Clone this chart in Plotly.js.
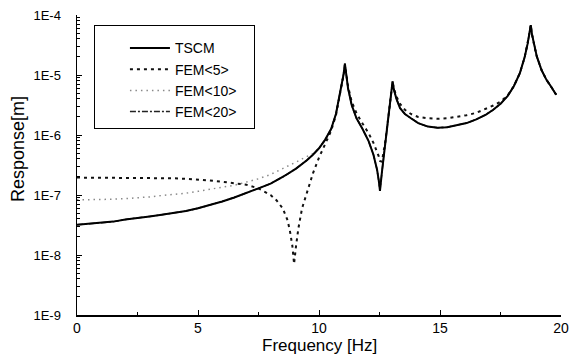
<!DOCTYPE html>
<html>
<head>
<meta charset="utf-8">
<script src="https://cdn.plot.ly/plotly-3.0.1.min.js"></script>
<style>html,body{margin:0;padding:0;background:#fff;}#chart{width:571px;height:357px;}</style>
</head>
<body>
<div id="chart"></div>
<script>
// Frequency grid [Hz]
const freq = [0, 0.5, 1, 1.5, 2, 2.5, 3, 3.5, 4, 4.5, 5, 5.5, 6, 6.5, 7, 7.5, 8,
  8.25, 8.5, 8.7, 8.8, 8.9, 8.97, 9.05, 9.15, 9.3, 9.5, 9.75,
  10, 10.25, 10.5, 10.7, 10.85, 10.95, 11.02, 11.07, 11.12, 11.2, 11.35, 11.55, 11.8,
  12.05, 12.25, 12.4, 12.47, 12.52, 12.6, 12.75, 12.9, 13, 13.04, 13.1, 13.2, 13.35, 13.55, 13.8,
  14.1, 14.5, 14.9, 15.3, 15.7, 16.1, 16.5, 16.9, 17.2, 17.5, 17.8,
  18.05, 18.3, 18.5, 18.62, 18.7, 18.75, 18.8, 18.9, 19, 19.2, 19.4, 19.6, 19.8];

// Response [m]
const tscm = [3.2e-8, 3.3e-8, 3.5e-8, 3.6e-8, 3.9e-8, 4.1e-8, 4.4e-8, 4.7e-8, 5.0e-8, 5.4e-8, 6.0e-8, 6.8e-8, 7.8e-8, 9.1e-8, 1.1e-7, 1.29e-7, 1.55e-7,
  1.74e-7, 2.0e-7, 2.24e-7, 2.4e-7, 2.5e-7, 2.63e-7, 2.75e-7, 2.95e-7, 3.24e-7, 3.8e-7, 4.7e-7,
  6.0e-7, 8.3e-7, 1.26e-6, 2.24e-6, 4.5e-6, 7.1e-6, 1.05e-5, 1.55e-5, 1.05e-5, 6.0e-6, 3.16e-6, 1.9e-6, 1.26e-6,
  7.9e-7, 4.7e-7, 2.63e-7, 1.74e-7, 1.17e-7, 2.4e-7, 7.9e-7, 2.5e-6, 5.2e-6, 7.8e-6, 5.6e-6, 4.0e-6, 2.8e-6, 2.24e-6, 1.9e-6,
  1.58e-6, 1.38e-6, 1.32e-6, 1.35e-6, 1.45e-6, 1.58e-6, 1.82e-6, 2.19e-6, 2.63e-6, 3.3e-6, 4.5e-6,
  6.5e-6, 1.07e-5, 2.0e-5, 3.3e-5, 5.0e-5, 6.8e-5, 4.8e-5, 3.0e-5, 2.04e-5, 1.2e-5, 8.3e-6, 6.3e-6, 4.7e-6];

const fem5 = [1.95e-7, 1.95e-7, 1.95e-7, 1.94e-7, 1.94e-7, 1.93e-7, 1.93e-7, 1.92e-7, 1.9e-7, 1.86e-7, 1.82e-7, 1.74e-7, 1.66e-7, 1.58e-7, 1.48e-7, 1.29e-7, 1.0e-7,
  8.1e-8, 6.0e-8, 3.8e-8, 2.5e-8, 1.41e-8, 7.1e-9, 1.41e-8, 2.8e-8, 6.0e-8, 1.12e-7, 2.3e-7,
  4.2e-7, 7.1e-7, 1.17e-6, 2.14e-6, 4.3e-6, 6.9e-6, 1.02e-5, 1.48e-5, 1.07e-5, 6.5e-6, 3.6e-6, 2.3e-6, 1.55e-6,
  1.07e-6, 7.4e-7, 5.4e-7, 4.4e-7, 3.7e-7, 3.6e-7, 8.3e-7, 2.5e-6, 5.2e-6, 7.6e-6, 5.9e-6, 4.4e-6, 3.3e-6, 2.63e-6, 2.24e-6,
  2.0e-6, 1.9e-6, 1.86e-6, 1.9e-6, 2.0e-6, 2.14e-6, 2.34e-6, 2.7e-6, 3.1e-6, 3.6e-6, 4.6e-6,
  6.5e-6, 1.07e-5, 2.0e-5, 3.3e-5, 5.0e-5, 6.8e-5, 4.8e-5, 3.0e-5, 2.04e-5, 1.2e-5, 8.3e-6, 6.3e-6, 4.7e-6];

const fem10 = [8.3e-8, 8.3e-8, 8.5e-8, 8.5e-8, 8.7e-8, 8.9e-8, 9.3e-8, 9.8e-8, 1.02e-7, 1.07e-7, 1.15e-7, 1.23e-7, 1.35e-7, 1.45e-7, 1.66e-7, 1.86e-7, 2.2e-7,
  2.45e-7, 2.75e-7, 3.0e-7, 3.16e-7, 3.3e-7, 3.4e-7, 3.55e-7, 3.7e-7, 4.0e-7, 4.4e-7, 4.9e-7,
  6.0e-7, 8.3e-7, 1.26e-6, 2.24e-6, 4.5e-6, 7.1e-6, 1.05e-5, 1.55e-5, 1.05e-5, 6.0e-6, 3.16e-6, 1.9e-6, 1.26e-6,
  7.9e-7, 4.7e-7, 2.63e-7, 1.74e-7, 1.17e-7, 2.4e-7, 7.9e-7, 2.5e-6, 5.2e-6, 7.8e-6, 5.6e-6, 4.0e-6, 2.8e-6, 2.24e-6, 1.9e-6,
  1.58e-6, 1.38e-6, 1.32e-6, 1.35e-6, 1.45e-6, 1.58e-6, 1.82e-6, 2.19e-6, 2.63e-6, 3.3e-6, 4.5e-6,
  6.5e-6, 1.07e-5, 2.0e-5, 3.3e-5, 5.0e-5, 6.8e-5, 4.8e-5, 3.0e-5, 2.04e-5, 1.2e-5, 8.3e-6, 6.3e-6, 4.7e-6];

const fem20 = [3.2e-8, 3.3e-8, 3.5e-8, 3.6e-8, 3.9e-8, 4.1e-8, 4.4e-8, 4.7e-8, 5.0e-8, 5.4e-8, 6.0e-8, 6.8e-8, 7.8e-8, 9.1e-8, 1.1e-7, 1.29e-7, 1.55e-7,
  1.74e-7, 2.0e-7, 2.24e-7, 2.4e-7, 2.5e-7, 2.63e-7, 2.75e-7, 2.95e-7, 3.24e-7, 3.8e-7, 4.7e-7,
  6.0e-7, 8.3e-7, 1.26e-6, 2.24e-6, 4.5e-6, 7.1e-6, 1.05e-5, 1.55e-5, 1.05e-5, 6.0e-6, 3.16e-6, 1.9e-6, 1.26e-6,
  7.9e-7, 4.7e-7, 2.63e-7, 1.74e-7, 1.17e-7, 2.4e-7, 7.9e-7, 2.5e-6, 5.2e-6, 7.8e-6, 5.6e-6, 4.0e-6, 2.8e-6, 2.24e-6, 1.9e-6,
  1.58e-6, 1.38e-6, 1.32e-6, 1.35e-6, 1.45e-6, 1.58e-6, 1.82e-6, 2.19e-6, 2.63e-6, 3.3e-6, 4.5e-6,
  6.5e-6, 1.07e-5, 2.0e-5, 3.3e-5, 5.0e-5, 6.8e-5, 4.8e-5, 3.0e-5, 2.04e-5, 1.2e-5, 8.3e-6, 6.3e-6, 4.7e-6];

const seriesNames = ['TSCM', 'FEM&lt;5&gt;', 'FEM&lt;10&gt;', 'FEM&lt;20&gt;&nbsp;&nbsp;&nbsp;'];
const xTickVals = [0, 5, 10, 15, 20];
const yTickVals = [1e-9, 1e-8, 1e-7, 1e-6, 1e-5, 1e-4];
const yTickText = ['1E-9', '1E-8', '1E-7', '1E-6', '1E-5', '1E-4'];

const yMinor = [];
for (let e = -9; e < -4; e++) {
  for (let m = 2; m <= 9; m++) yMinor.push(m * Math.pow(10, e));
}

const FONT = '"Liberation Sans", Arial, Helvetica, sans-serif';

const traces = [
  {x: freq, y: fem20, name: seriesNames[3], legendrank: 4, mode: 'lines',
   line: {color: '#222', width: 1.5, dash: '6px,2px,2px,2px'}},
  {x: freq, y: fem10, name: seriesNames[2], legendrank: 3, mode: 'lines',
   line: {color: '#8a8a8a', width: 1.5, dash: '1.5px,4px'}},
  {x: freq, y: fem5, name: seriesNames[1], legendrank: 2, mode: 'lines',
   line: {color: '#111', width: 2, dash: '3px,4px'}},
  {x: freq, y: tscm, name: seriesNames[0], legendrank: 1, mode: 'lines',
   line: {color: '#000', width: 2}}
];

const layout = {
  width: 571, height: 357,
  margin: {l: 77, r: 10, t: 15, b: 42},
  paper_bgcolor: '#fff', plot_bgcolor: '#fff',
  font: {family: FONT, color: '#000', size: 13},
  showlegend: true,
  legend: {
    x: 0.035, y: 0.967, xanchor: 'left', yanchor: 'top',
    bgcolor: '#fff', bordercolor: '#000', borderwidth: 1,
    font: {family: FONT, size: 14, color: '#000'},
    indentation: 30, itemwidth: 40,
    title: {text: '&nbsp;', font: {size: 5}}
  },
  xaxis: {
    range: [0, 20], tickmode: 'array', tickvals: xTickVals,
    ticks: 'inside', ticklen: 5, tickwidth: 1, tickcolor: '#000',
    showline: true, linewidth: 1.5, linecolor: '#000', mirror: false,
    showgrid: false, zeroline: false,
    tickfont: {family: FONT, size: 14, color: '#000'},
    minor: {dtick: 2.5, tick0: 0, ticks: 'inside', ticklen: 3, tickcolor: '#000', showgrid: false}
  },
  yaxis: {
    type: 'log', range: [-9, -4], tickmode: 'array', tickvals: yTickVals, ticktext: yTickText,
    ticks: 'inside', ticklen: 5, tickwidth: 1, tickcolor: '#000',
    showline: true, linewidth: 1.5, linecolor: '#000', mirror: false,
    showgrid: false, zeroline: false, ticklabelstandoff: 12,
    tickfont: {family: FONT, size: 13, color: '#000'},
    minor: {tickmode: 'array', tickvals: yMinor, ticks: 'inside', ticklen: 3, tickcolor: '#000', showgrid: false}
  },
  annotations: [
    {text: 'Frequency [Hz]', xref: 'paper', yref: 'paper', x: 0.5, y: -0.103,
     xanchor: 'center', yanchor: 'middle', showarrow: false,
     font: {family: FONT, size: 17, color: '#000'}},
    {text: 'Response[m]', xref: 'paper', yref: 'paper', x: -0.122, y: 0.553,
     xanchor: 'center', yanchor: 'middle', showarrow: false, textangle: -90,
     font: {family: FONT, size: 18, color: '#000'}}
  ]
};

Plotly.newPlot('chart', traces, layout, {displayModeBar: false, staticPlot: true});
</script>
</body>
</html>
